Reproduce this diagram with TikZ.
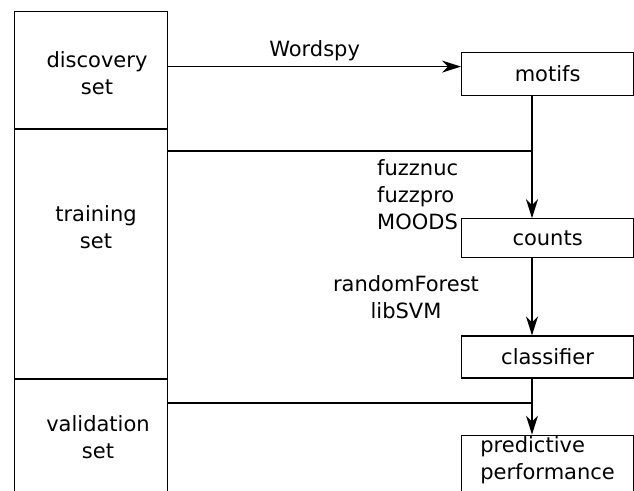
\documentclass[tikz,border=0pt]{standalone}
\usepackage{fontspec}
\setmainfont{DejaVu Sans}
\usetikzlibrary{arrows.meta, positioning, calc}

\begin{document}
\begin{tikzpicture}[x=1pt, y=1pt,
    font=\fontsize{21}{27}\selectfont,
    setbox/.style={draw, line width=1.2pt, minimum width=153pt, inner sep=0pt},
    stepbox/.style={draw, line width=1.2pt, minimum width=172pt, inner sep=0pt},
    link/.style={line width=1.2pt},
    flow/.style={line width=1.2pt, -{Stealth[length=19pt,width=12pt,inset=6pt]}}]
    \useasboundingbox (0,0) rectangle (634,-490);

    % data sets on the left
    \node[setbox, minimum height=117pt, anchor=north west] (disc) at (14,-10.5) {};
    \node[setbox, minimum height=249pt, below=0pt of disc] (train) {};
    \node[setbox, minimum height=120pt, below=0pt of train] (valid) {};
    \node[align=center] (disctext) at (97,-73) {discovery\\set};
    \node[align=center] (traintext) at (96,-227) {training\\set};
    \node[align=center] (validtext) at (98,-437) {validation\\set};

    % pipeline on the right
    \node[stepbox, minimum height=43pt, anchor=north west] (motifs) at (461,-52) {motifs};
    \node[stepbox, minimum height=39pt, below=122pt of motifs] (counts) {counts};
    \node[stepbox, minimum height=42pt, below=77pt of counts] (classif) {classifier};
    \node[stepbox, minimum height=64pt, text depth=19pt, below=56pt of classif, align=left] (perf) {predictive\\performance};

    \coordinate (axis) at (532,0);
    \coordinate (J1) at (532,-151);
    \coordinate (J2) at (532,-403);

    \draw[flow] ([yshift=3pt]disc.east) -- ([yshift=3pt]disc.east -| motifs.west) node[midway, above=2pt] (wordspy) {Wordspy};
    \draw[link] (J1 -| train.east) -- (J1);
    \draw[flow] (motifs.south -| axis) -- (counts.north -| axis);
    \draw[flow] (counts.south -| axis) -- (classif.north -| axis);
    \draw[link] (J2 -| valid.east) -- (J2);
    \draw[flow] (classif.south -| axis) -- (perf.north -| axis);

    \node[align=left, anchor=west, inner sep=0pt] (scanners) at (377,-195) {fuzznuc\\fuzzpro\\MOODS};
    \node[align=center, inner sep=0pt] (learners) at (406,-297) {randomForest\\libSVM};
\end{tikzpicture}
\end{document}
